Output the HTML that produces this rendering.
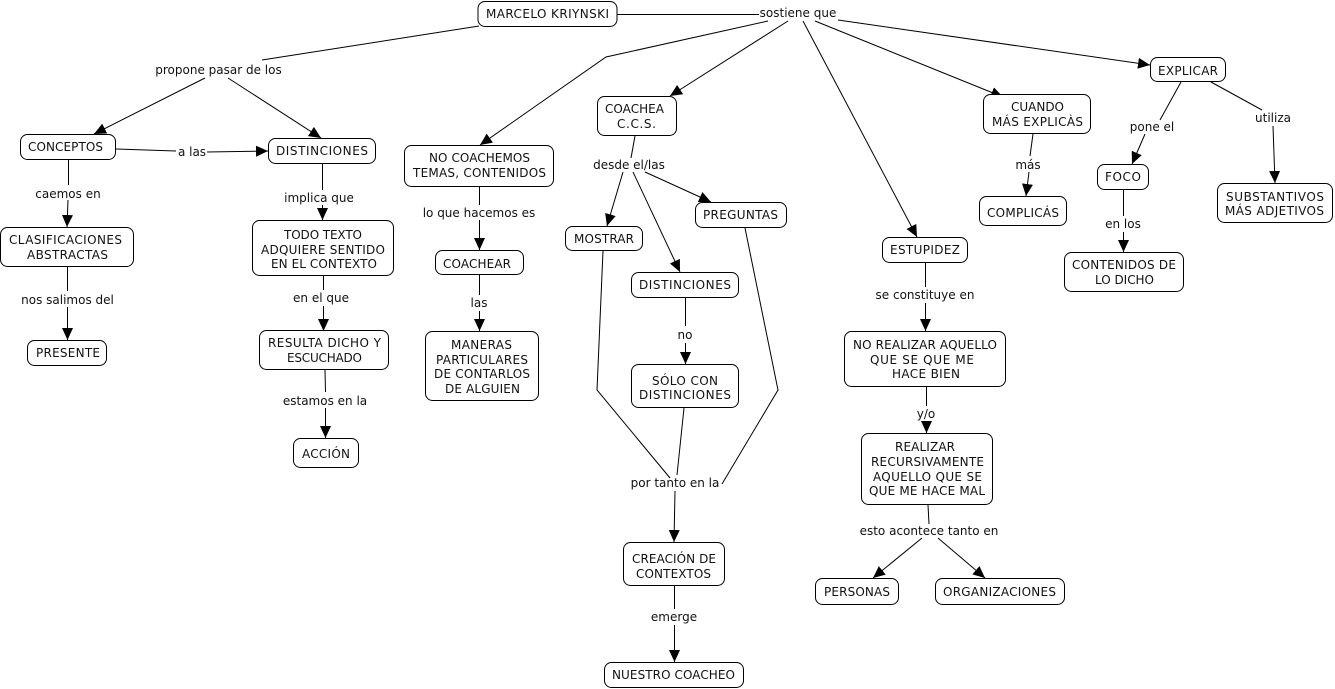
<!DOCTYPE html>
<html><head><meta charset="utf-8"><style>
html,body{margin:0;padding:0;background:#fff}
svg{display:block}
text{font-family:"DejaVu Sans","Liberation Sans",sans-serif;font-size:12px;fill:#111;text-anchor:middle}
rect{fill:#fff;stroke:#000;stroke-width:1}
.l{fill:none;stroke:#000;stroke-width:1;marker-end:url(#a)}
.n{fill:none;stroke:#000;stroke-width:1}
</style></head><body>
<svg width="1335" height="689" viewBox="0 0 1335 689" xmlns="http://www.w3.org/2000/svg">
<defs><marker id="a" markerUnits="userSpaceOnUse" markerWidth="13" markerHeight="12" refX="12" refY="6" orient="auto"><path d="M0 0.500L12 6L0 11.500Z" fill="#000"/></marker></defs>
<g>
<path class="n" d="M617 14.500H759"/>
<path class="n" d="M479 26L262 60"/>
<path class="l" d="M205 78L94 134"/>
<path class="l" d="M228 78L321 138"/>
<path class="l" d="M768 21L606 57L480 145"/>
<path class="l" d="M788 21L670 96"/>
<path class="l" d="M803 21L917 237"/>
<path class="l" d="M815 21L1003 97"/>
<path class="l" d="M838 20L1150 65"/>
<path class="n" d="M116 149L176 151"/>
<path class="l" d="M207 152L268 151"/>
<path class="n" d="M68.500 160V185"/>
<path class="l" d="M68 200L67 227"/>
<path class="n" d="M67.500 267V291"/>
<path class="l" d="M67.500 307V340"/>
<path class="n" d="M322.500 164V190"/>
<path class="l" d="M322.500 205V220"/>
<path class="n" d="M323.500 276V290"/>
<path class="l" d="M323.500 306V331"/>
<path class="n" d="M325 370L325.500 392"/>
<path class="l" d="M325.500 408V438"/>
<path class="n" d="M479.500 187V205"/>
<path class="l" d="M479.500 220V250"/>
<path class="n" d="M479.500 275V295"/>
<path class="l" d="M479.500 311V331"/>
<path class="n" d="M635 136L631 158"/>
<path class="l" d="M623 172L607 226"/>
<path class="l" d="M633 172L680 272"/>
<path class="l" d="M645 172L711 202"/>
<path class="n" d="M603 251L597 390L670 478"/>
<path class="n" d="M745 228L778 390L722 484"/>
<path class="n" d="M685.500 298V326"/>
<path class="l" d="M685.500 343V364"/>
<path class="n" d="M684 408L677 475"/>
<path class="l" d="M675 491L674 542"/>
<path class="n" d="M674.500 586V609"/>
<path class="l" d="M674.500 625V662"/>
<path class="n" d="M925.500 263V287"/>
<path class="l" d="M925.500 303V331"/>
<path class="n" d="M926.500 387V406"/>
<path class="l" d="M926.500 421V433"/>
<path class="n" d="M928 505L929 524"/>
<path class="l" d="M922 538L873 578"/>
<path class="l" d="M938 538L985 578"/>
<path class="n" d="M1033 134L1030 156"/>
<path class="l" d="M1029 172L1026 196"/>
<path class="n" d="M1181 82L1160 120"/>
<path class="l" d="M1145 134L1132 164"/>
<path class="n" d="M1211 82L1262 110"/>
<path class="l" d="M1273 126L1275 183"/>
<path class="n" d="M1123.500 190V216"/>
<path class="l" d="M1123.500 232V252"/>
</g>
<g>
<rect x="478" y="1.500" width="139" height="25" rx="7"/>
<rect x="20.500" y="134.500" width="95" height="25" rx="7"/>
<rect x="268.500" y="138.500" width="107" height="25" rx="7"/>
<rect x="404.500" y="145.500" width="149" height="41" rx="7"/>
<rect x="597.500" y="96.500" width="79" height="39" rx="7"/>
<rect x="983.500" y="94.500" width="107" height="39" rx="7"/>
<rect x="1150.500" y="57.500" width="75" height="24" rx="7"/>
<rect x="0.500" y="227.500" width="133" height="39" rx="7"/>
<rect x="252.500" y="220.500" width="141" height="55" rx="7"/>
<rect x="565.500" y="226.500" width="77" height="24" rx="7"/>
<rect x="695.500" y="202.500" width="91" height="25" rx="7"/>
<rect x="631.500" y="272.500" width="107" height="25" rx="7"/>
<rect x="435.500" y="250.500" width="88" height="24" rx="7"/>
<rect x="27.500" y="340.500" width="79" height="25" rx="7"/>
<rect x="425.500" y="331.500" width="113" height="69" rx="7"/>
<rect x="259.500" y="330.500" width="129" height="39" rx="7"/>
<rect x="293.500" y="438.500" width="65" height="29" rx="7"/>
<rect x="631.500" y="364.500" width="107" height="43" rx="7"/>
<rect x="623.500" y="542.500" width="101" height="43" rx="7"/>
<rect x="604.500" y="662.500" width="139" height="25" rx="7"/>
<rect x="882.500" y="237.500" width="85" height="25" rx="7"/>
<rect x="844.500" y="331.500" width="161" height="55" rx="7"/>
<rect x="861.500" y="433.500" width="131" height="71" rx="7"/>
<rect x="815.500" y="578.500" width="83" height="26" rx="7"/>
<rect x="935.500" y="578.500" width="129" height="26" rx="7"/>
<rect x="979.500" y="196.500" width="87" height="29" rx="7"/>
<rect x="1097.500" y="164.500" width="51" height="25" rx="7"/>
<rect x="1064.500" y="252.500" width="119" height="39" rx="7"/>
<rect x="1217.500" y="183.500" width="115" height="39" rx="7"/>
</g>
<g>
<text x="547.500" y="18" textLength="123">MARCELO KRIYNSKI</text>
<text x="65.500" y="151" textLength="75">CONCEPTOS</text>
<text x="322" y="155" textLength="92">DISTINCIONES</text>
<text x="479.500" y="162" textLength="101">NO COACHEMOS</text>
<text x="479.500" y="177" textLength="133">TEMAS, CONTENIDOS</text>
<text x="634.500" y="113" textLength="59">COACHEA</text>
<text x="636.500" y="128" textLength="39">C.C.S.</text>
<text x="1037.500" y="111" textLength="53">CUANDO</text>
<text x="1037.500" y="126" textLength="91">MÁS EXPLICÀS</text>
<text x="1188" y="75" textLength="60">EXPLICAR</text>
<text x="65.500" y="244" textLength="113">CLASIFICACIONES</text>
<text x="67.500" y="259" textLength="81">ABSTRACTAS</text>
<text x="323" y="239" textLength="78">TODO TEXTO</text>
<text x="323" y="254" textLength="124">ADQUIERE SENTIDO</text>
<text x="324" y="268" textLength="106">EN EL CONTEXTO</text>
<text x="604" y="243" textLength="60">MOSTRAR</text>
<text x="740.500" y="219" textLength="75">PREGUNTAS</text>
<text x="685" y="289" textLength="92">DISTINCIONES</text>
<text x="477" y="268" textLength="68">COACHEAR</text>
<text x="68" y="357" textLength="64">PRESENTE</text>
<text x="481.500" y="349" textLength="61">MANERAS</text>
<text x="482" y="364" textLength="92">PARTICULARES</text>
<text x="482" y="378" textLength="96">DE CONTARLOS</text>
<text x="482.500" y="393" textLength="75">DE ALGUIEN</text>
<text x="324.500" y="347" textLength="113">RESULTA DICHO Y</text>
<text x="324.500" y="362" textLength="75">ESCUCHADO</text>
<text x="326" y="458" textLength="48">ACCIÓN</text>
<text x="685" y="385" textLength="66">SÓLO CON</text>
<text x="685" y="399" textLength="92">DISTINCIONES</text>
<text x="674" y="563" textLength="84">CREACIÓN DE</text>
<text x="673.500" y="578" textLength="75">CONTEXTOS</text>
<text x="673.500" y="679" textLength="123">NUESTRO COACHEO</text>
<text x="925" y="254" textLength="70">ESTUPIDEZ</text>
<text x="925" y="349" textLength="144">NO REALIZAR AQUELLO</text>
<text x="922" y="364" textLength="104">QUE SE QUE ME</text>
<text x="926" y="378" textLength="68">HACE BIEN</text>
<text x="925" y="451" textLength="60">REALIZAR</text>
<text x="927.500" y="466" textLength="113">RECURSIVAMENTE</text>
<text x="927.500" y="481" textLength="109">AQUELLO QUE SE</text>
<text x="927" y="495" textLength="116">QUE ME HACE MAL</text>
<text x="857" y="596" textLength="66">PERSONAS</text>
<text x="999.500" y="596" textLength="113">ORGANIZACIONES</text>
<text x="1023" y="217" textLength="72">COMPLICÁS</text>
<text x="1123" y="181" textLength="36">FOCO</text>
<text x="1124" y="269" textLength="104">CONTENIDOS DE</text>
<text x="1124.500" y="284" textLength="59">LO DICHO</text>
<text x="1275" y="201" textLength="98">SUBSTANTIVOS</text>
<text x="1274.500" y="215" textLength="99">MÁS ADJETIVOS</text>
</g>
<g>
<text x="798" y="17">sostiene que</text>
<text x="218.500" y="74">propone pasar de los</text>
<text x="192" y="156">a las</text>
<text x="68" y="198">caemos en</text>
<text x="67.500" y="304">nos salimos del</text>
<text x="319" y="202">implica que</text>
<text x="321" y="302">en el que</text>
<text x="325" y="405">estamos en la</text>
<text x="479" y="217">lo que hacemos es</text>
<text x="479" y="307">las</text>
<text x="629" y="169">desde el/las</text>
<text x="685" y="339">no</text>
<text x="675" y="487">por tanto en la</text>
<text x="674" y="621">emerge</text>
<text x="925" y="299">se constituye en</text>
<text x="926" y="418">y/o</text>
<text x="929" y="535">esto acontece tanto en</text>
<text x="1028" y="169">más</text>
<text x="1152" y="131">pone el</text>
<text x="1273" y="122">utiliza</text>
<text x="1123" y="228">en los</text>
</g>
</svg>
</body></html>
